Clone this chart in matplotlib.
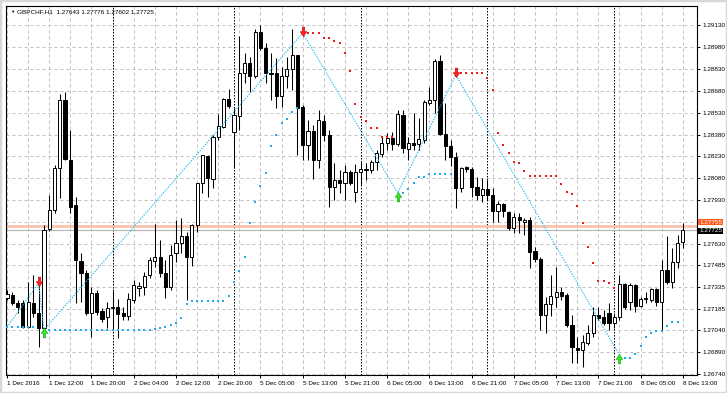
import matplotlib
matplotlib.use("Agg")
import matplotlib.pyplot as plt
from matplotlib.patches import Rectangle
from matplotlib.path import Path
import numpy as np

# ---------------- data ----------------
title_text = "GBPCHF,H1  1.27643 1.27776 1.27602 1.27725"

opens = [1.27261, 1.27281, 1.27226, 1.27226, 1.27062, 1.27226, 1.27158, 1.27055, 1.27733, 1.27863,
         1.28151, 1.28616, 1.28205, 1.27898, 1.27514, 1.27432, 1.27158, 1.27295, 1.27171, 1.27130,
         1.27192, 1.27199, 1.27158, 1.27137, 1.27247, 1.27329, 1.27336, 1.27418, 1.27514, 1.27541,
         1.27432, 1.27336, 1.27568, 1.27637, 1.27685, 1.27541, 1.27760, 1.28048, 1.28233, 1.28075,
         1.28363, 1.28431, 1.28623, 1.28397, 1.28507, 1.28801, 1.28870, 1.28781, 1.29082, 1.28972,
         1.28801, 1.28801, 1.28644, 1.28781, 1.28828, 1.28924, 1.28568, 1.28308, 1.28404, 1.28205,
         1.28472, 1.28376, 1.28021, 1.28069, 1.28048, 1.28123, 1.27986, 1.28123, 1.28144, 1.28137,
         1.28192, 1.28247, 1.28322, 1.28356, 1.28315, 1.28513, 1.28281, 1.28322, 1.28315, 1.28342,
         1.28596, 1.28616, 1.28883, 1.28383, 1.28301, 1.28226, 1.28014, 1.28157, 1.28144, 1.28021,
         1.27966, 1.28007, 1.27966, 1.27856, 1.27904, 1.27850, 1.27740, 1.27815, 1.27781, 1.27795,
         1.27582, 1.27527, 1.27144, 1.27219, 1.27267, 1.27302, 1.27281, 1.27076, 1.26918, 1.26904,
         1.26952, 1.27021, 1.27144, 1.27130, 1.27158, 1.27089, 1.27130, 1.27356, 1.27233, 1.27349,
         1.27206, 1.27254, 1.27247, 1.27322, 1.27233, 1.27452, 1.27370, 1.27507, 1.27643]
highs = [1.27315, 1.27302, 1.27247, 1.27247, 1.27370, 1.27418, 1.27349, 1.27760, 1.27966, 1.28171,
         1.28657, 1.28671, 1.28411, 1.27952, 1.27568, 1.27452, 1.27336, 1.27315, 1.27192, 1.27233,
         1.27308, 1.27254, 1.27199, 1.27295, 1.27384, 1.27370, 1.27438, 1.27541, 1.27767, 1.27658,
         1.27520, 1.27623, 1.27795, 1.27809, 1.27712, 1.27767, 1.28048, 1.28240, 1.28240, 1.28376,
         1.28520, 1.28630, 1.28692, 1.28561, 1.29054, 1.28938, 1.28911, 1.29102, 1.29130, 1.29007,
         1.28938, 1.28904, 1.28842, 1.28911, 1.29102, 1.28924, 1.28582, 1.28479, 1.28445, 1.28548,
         1.28513, 1.28411, 1.28185, 1.28137, 1.28171, 1.28137, 1.28178, 1.28192, 1.28185, 1.28205,
         1.28274, 1.28363, 1.28390, 1.28397, 1.28548, 1.28548, 1.28363, 1.28527, 1.28493, 1.28616,
         1.28705, 1.28897, 1.28924, 1.28596, 1.28342, 1.28260, 1.28157, 1.28164, 1.28157, 1.28089,
         1.28082, 1.28069, 1.28014, 1.27925, 1.27911, 1.27856, 1.27843, 1.27843, 1.27809, 1.27815,
         1.27610, 1.27541, 1.27267, 1.27418, 1.27473, 1.27336, 1.27295, 1.27144, 1.26994, 1.27007,
         1.27076, 1.27199, 1.27199, 1.27178, 1.27226, 1.27158, 1.27418, 1.27363, 1.27363, 1.27356,
         1.27267, 1.27302, 1.27329, 1.27329, 1.27520, 1.27685, 1.27603, 1.27692, 1.27776]
lows = [1.27247, 1.27213, 1.27158, 1.27055, 1.27055, 1.27130, 1.26925, 1.27041, 1.27719, 1.27843,
        1.27945, 1.28205, 1.27843, 1.27226, 1.27233, 1.27144, 1.26994, 1.27144, 1.27096, 1.27055,
        1.27041, 1.26987, 1.27110, 1.27110, 1.27226, 1.27274, 1.27281, 1.27397, 1.27473, 1.27404,
        1.27261, 1.27315, 1.27507, 1.27568, 1.27247, 1.27479, 1.27712, 1.27980, 1.27952, 1.28014,
        1.28342, 1.28424, 1.28561, 1.28151, 1.28411, 1.28733, 1.28671, 1.28767, 1.28959, 1.28733,
        1.28616, 1.28561, 1.28568, 1.28699, 1.28685, 1.28240, 1.28205, 1.28205, 1.28075, 1.28151,
        1.28335, 1.27884, 1.27932, 1.27980, 1.27932, 1.28034, 1.27918, 1.28034, 1.28069, 1.28116,
        1.28137, 1.28226, 1.28274, 1.28274, 1.28301, 1.28253, 1.28205, 1.28274, 1.28274, 1.28322,
        1.28582, 1.28527, 1.28376, 1.28205, 1.28164, 1.27877, 1.27986, 1.28123, 1.27952, 1.27932,
        1.27918, 1.27932, 1.27781, 1.27781, 1.27815, 1.27726, 1.27705, 1.27705, 1.27692, 1.27466,
        1.27507, 1.27041, 1.27021, 1.27137, 1.27199, 1.27247, 1.27062, 1.26815, 1.26815, 1.26788,
        1.26938, 1.26994, 1.27110, 1.27076, 1.27041, 1.27055, 1.27110, 1.27185, 1.27178, 1.27165,
        1.27199, 1.27226, 1.27233, 1.27206, 1.27041, 1.27356, 1.27329, 1.27466, 1.27602]
closes = [1.27288, 1.27226, 1.27199, 1.27062, 1.27233, 1.27158, 1.27055, 1.27726, 1.27863, 1.28151,
          1.28616, 1.28212, 1.27884, 1.27520, 1.27432, 1.27158, 1.27295, 1.27165, 1.27117, 1.27192,
          1.27199, 1.27151, 1.27137, 1.27254, 1.27349, 1.27343, 1.27411, 1.27520, 1.27541, 1.27432,
          1.27336, 1.27555, 1.27637, 1.27685, 1.27541, 1.27760, 1.28048, 1.28240, 1.28082, 1.28363,
          1.28438, 1.28623, 1.28575, 1.28513, 1.28801, 1.28870, 1.28781, 1.29082, 1.28972, 1.28801,
          1.28794, 1.28644, 1.28781, 1.28828, 1.28924, 1.28561, 1.28308, 1.28404, 1.28205, 1.28479,
          1.28376, 1.28021, 1.28069, 1.28048, 1.28123, 1.28048, 1.28123, 1.28144, 1.28137, 1.28192,
          1.28253, 1.28322, 1.28356, 1.28315, 1.28520, 1.28288, 1.28322, 1.28308, 1.28349, 1.28603,
          1.28616, 1.28883, 1.28383, 1.28301, 1.28226, 1.28014, 1.28151, 1.28144, 1.28021, 1.27966,
          1.28007, 1.27966, 1.27856, 1.27904, 1.27856, 1.27740, 1.27815, 1.27795, 1.27795, 1.27575,
          1.27527, 1.27144, 1.27219, 1.27274, 1.27302, 1.27274, 1.27076, 1.26925, 1.26904, 1.26959,
          1.27021, 1.27144, 1.27124, 1.27089, 1.27089, 1.27130, 1.27356, 1.27199, 1.27349, 1.27206,
          1.27254, 1.27261, 1.27322, 1.27233, 1.27452, 1.27370, 1.27507, 1.27637, 1.27725]

# trailing-stop dots (bar index, price)
up_stop_bars = [0, 1, 2, 3, 4, 5] + list(range(8, 28)) + [28, 29, 30, 31, 32, 33, 34] + \
               list(range(35, 42)) + [42, 43, 44, 45, 46, 47, 48, 49, 50, 51, 52, 53, 54, 55] + \
               [75, 76, 77, 78, 79, 80, 81, 82, 83, 84] + \
               [117, 118, 119, 120, 121, 122, 123, 124, 125, 126, 127]
up_stop_vals = [1.27062] * 6 + [1.27041] * 20 + [1.27048, 1.27055, 1.27062, 1.27076, 1.27089, 1.27124, 1.27219] + \
               [1.27240] * 7 + [1.27274, 1.27370, 1.27445, 1.27541, 1.27774, 1.27918, 1.28027, 1.28116,
                                1.28301, 1.28376, 1.28459, 1.28486, 1.28534, 1.28561] + \
               [1.27980, 1.28007, 1.28048, 1.28089, 1.28089, 1.28110, 1.28110, 1.28110, 1.28110, 1.28110] + \
               [1.26850, 1.26850, 1.26877, 1.26932, 1.26994, 1.27021, 1.27034, 1.27034, 1.27069, 1.27096, 1.27096]

dn_stop_bars = list(range(57, 74)) + list(range(86, 116))
dn_stop_vals = [1.29075, 1.29075, 1.29075, 1.29041, 1.29041, 1.29020, 1.29007, 1.28938, 1.28815, 1.28589,
                1.28500, 1.28472, 1.28424, 1.28424, 1.28363, 1.28363, 1.28363] + \
               [1.28801, 1.28801, 1.28801, 1.28801, 1.28801, 1.28767, 1.28685, 1.28390, 1.28308, 1.28253,
                1.28192, 1.28185, 1.28130, 1.28096, 1.28096, 1.28096, 1.28096, 1.28096, 1.28096, 1.28041,
                1.27986, 1.27973, 1.27891, 1.27774, 1.27610, 1.27500, 1.27377, 1.27377, 1.27363, 1.27329]

# zigzag
zz_bars = [0, 6, 7, 56, 74, 85, 116]
zz_vals = [1.27062, 1.27363, 1.27041, 1.29075, 1.27980, 1.28787, 1.26870]
sell_bars = [6, 56, 85]
sell_vals = [1.27370, 1.29082, 1.28801]
buy_bars = [7, 74, 116]
buy_vals = [1.27027, 1.27959, 1.26850]

bid_price = 1.27725
ask_price = 1.27755

price_ticks = [1.29130, 1.28980, 1.28830, 1.28680, 1.28530, 1.28380, 1.28230, 1.28080,
               1.27930, 1.27780, 1.27630, 1.27485, 1.27335, 1.27185, 1.27040, 1.26890, 1.26740]
hidden_tick = 1.27780   # its label sits under the price boxes
time_tick_bars = list(range(0, 129, 8))
time_tick_labels = ["1 Dec 2016", "1 Dec 12:00", "1 Dec 20:00", "2 Dec 04:00", "2 Dec 12:00",
                    "2 Dec 20:00", "5 Dec 05:00", "5 Dec 13:00", "5 Dec 21:00", "6 Dec 05:00",
                    "6 Dec 13:00", "6 Dec 21:00", "7 Dec 05:00", "7 Dec 13:00", "7 Dec 21:00",
                    "8 Dec 05:00", "8 Dec 13:00"]
day_start_bars = [20, 43, 67, 91, 115]

# ---------------- figure ----------------
W, H = 727, 393
fig = plt.figure(figsize=(W / 100, H / 100), dpi=100)
fig.patch.set_facecolor("white")
FONT = ["Liberation Sans", "DejaVu Sans"]
FS = 4.6

ax = fig.add_axes([6 / W, 18 / H, 691 / W, 369 / H])
ax.set_xlim(-0.19, 130.68)
ax.set_ylim(1.26733, 1.29260)
ax.set_facecolor("white")
for s in ax.spines.values():
    s.set_color("black")
    s.set_linewidth(0.8)

# grid
for p in price_ticks:
    ax.axhline(p, color="#c0c0c0", lw=0.72, ls=(0, (3, 3)), zorder=0)
for b in range(0, 131, 4):
    ax.axvline(b, color="#c0c0c0", lw=0.72, ls=(0, (3, 3)), zorder=0)
for b in day_start_bars:
    ax.axvline(b, color="black", lw=0.72, ls=(0, (1.5, 1.5)), zorder=1)

# price lines
ax.axhline(ask_price, color="#f9c3ad", lw=2.0, zorder=1)
ax.axhline(bid_price, color="#b4b4b4", lw=0.8, zorder=1)

# candles
bw = 0.6
for i, (o, h, l, c) in enumerate(zip(opens, highs, lows, closes)):
    ax.plot([i, i], [l, h], color="black", lw=0.75, zorder=3, solid_capstyle="butt")
    lo, hi = min(o, c), max(o, c)
    if hi - lo < 0.00005:
        ax.plot([i - bw / 2, i + bw / 2], [o, o], color="black", lw=0.9, zorder=4)
    else:
        fc = "white" if c > o else "black"
        ax.add_patch(Rectangle((i - bw / 2, lo), bw, hi - lo, facecolor=fc,
                               edgecolor="black", lw=0.7, zorder=4))

# zigzag
ax.plot(zz_bars, zz_vals, color="#22b8f0", lw=0.8, ls=(0, (1.2, 1.2)), zorder=5)

# trailing dots
ax.scatter(up_stop_bars, up_stop_vals, marker="s", s=2.6, color="#1eaaf0", linewidths=0, zorder=6)
ax.scatter(dn_stop_bars, dn_stop_vals, marker="s", s=2.6, color="#f01818", linewidths=0, zorder=6)

# arrows
down_verts = [(-0.22, 1.0), (0.22, 1.0), (0.22, 0.15), (0.6, 0.15), (0.0, -0.75), (-0.6, 0.15),
              (-0.22, 0.15), (-0.22, 1.0)]
down_path = Path(down_verts, [Path.MOVETO] + [Path.LINETO] * 6 + [Path.CLOSEPOLY])
up_path = Path([(x, -y) for x, y in down_verts], [Path.MOVETO] + [Path.LINETO] * 6 + [Path.CLOSEPOLY])
ax.scatter(sell_bars, sell_vals, marker=down_path, s=60, color="#ff2020", edgecolors="#c00000",
           linewidths=0.4, zorder=7)
ax.scatter(buy_bars, buy_vals, marker=up_path, s=60, color="#33ee22", edgecolors="#119911",
           linewidths=0.4, zorder=7)

# axes ticks
ax.yaxis.tick_right()
ax.set_yticks(price_ticks)
ax.set_yticklabels(["" if p == hidden_tick else f"{p:.5f}" for p in price_ticks], fontsize=FS, family=FONT)
ax.set_xticks(time_tick_bars)
ax.set_xticklabels(time_tick_labels, fontsize=FS, family=FONT, ha="left")
ax.tick_params(axis="y", length=2.5, width=0.7, pad=1.5, colors="black")
ax.tick_params(axis="x", length=2.5, width=0.7, pad=1.5, colors="black")

# title
fig.text(10 / W, 1 - 12 / H, "\u25BC", fontsize=3.2, family=FONT, va="center", ha="left")
fig.text(17 / W, 1 - 12 / H, title_text, fontsize=FS, family=FONT, va="center", ha="left")

# price boxes on the right
fig.text(699 / W, 1 - 222 / H, f"{ask_price:.5f}", fontsize=FS, family=FONT, va="center", ha="left",
         color="white", bbox=dict(boxstyle="square,pad=0.15", fc="#ff5a1e", ec="none"), zorder=10)
fig.text(699 / W, 1 - 231 / H, f"{bid_price:.5f}", fontsize=FS, family=FONT, va="center", ha="left",
         color="white", bbox=dict(boxstyle="square,pad=0.15", fc="black", ec="none"), zorder=11)

# window frame
fig.add_artist(Rectangle((0, 0), 1, 1, transform=fig.transFigure, fill=False,
                         ec="#d8d8d8", lw=2.5))

fig.savefig("out.png", dpi=100)
